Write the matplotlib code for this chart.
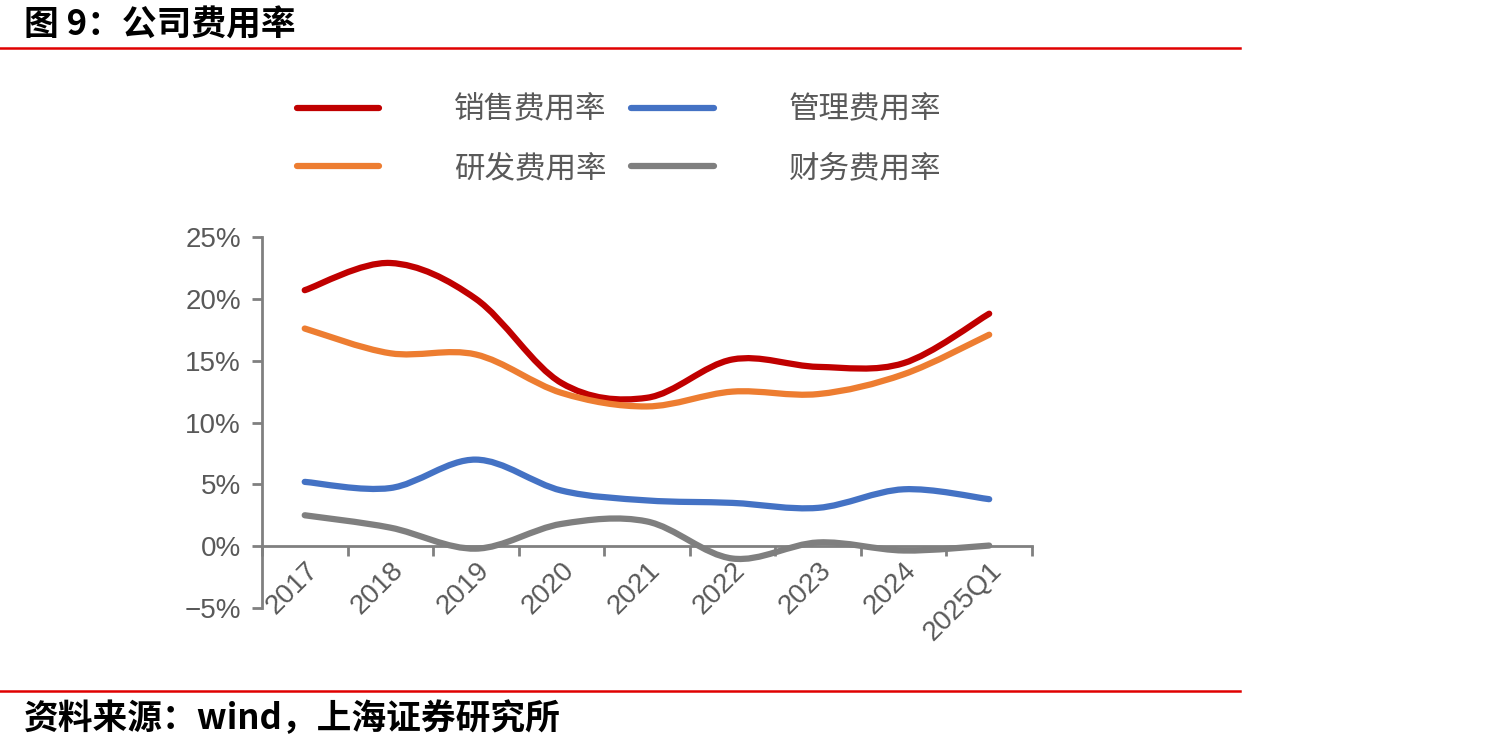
import matplotlib
matplotlib.use("Agg")
import matplotlib.pyplot as plt
from matplotlib.path import Path
from matplotlib.patches import PathPatch
from matplotlib.lines import Line2D
from matplotlib.ticker import FuncFormatter, FixedLocator
import numpy as np

plt.rcParams['font.family'] = ['Liberation Sans', 'Noto Sans CJK SC', 'DejaVu Sans']

# data (percent)
categories = ['2017', '2018', '2019', '2020', '2021', '2022', '2023', '2024', '2025Q1']
sales_rate = [20.7, 22.9, 20.0, 13.2, 12.0, 15.1, 14.5, 14.8, 18.8]
mgmt_rate = [5.2, 4.7, 7.0, 4.5, 3.7, 3.5, 3.1, 4.6, 3.8]
rd_rate = [17.6, 15.6, 15.5, 12.4, 11.3, 12.5, 12.3, 13.9, 17.1]
fin_rate = [2.5, 1.5, -0.2, 1.8, 2.0, -1.0, 0.3, -0.35, 0.05]

series_names = ['销售费用率', '研发费用率', '管理费用率', '财务费用率']
series_colors = ['#C00000', '#ED7D31', '#4472C4', '#7F7F7F']

AXIS_GRAY = '#808080'
TEXT_GRAY = '#595959'


def smooth_path(x, y):
    # excel-like smoothed line: cubic bezier through each point
    pts = np.column_stack([x, y]).astype(float)
    n = len(pts)
    verts = [pts[0]]
    codes = [Path.MOVETO]
    for i in range(n - 1):
        p_prev = pts[i - 1] if i > 0 else pts[i]
        p_next2 = pts[i + 2] if i + 2 < n else pts[i + 1]
        c1 = pts[i] + (pts[i + 1] - p_prev) / 6.0
        c2 = pts[i + 1] - (p_next2 - pts[i]) / 6.0
        verts += [c1, c2, pts[i + 1]]
        codes += [Path.CURVE4] * 3
    return Path(verts, codes)


fig = plt.figure(figsize=(14.9, 7.51), dpi=100)
ax = fig.add_axes([0.1758, 0.1904, 0.5168, 0.494])

xs = np.arange(len(categories))
handles = []
for vals, name, col in zip([sales_rate, rd_rate, mgmt_rate, fin_rate], series_names, series_colors):
    patch = PathPatch(smooth_path(xs, vals), fill=False, edgecolor=col, lw=4.5,
                      capstyle='round', joinstyle='round', transform=ax.transData, zorder=3)
    ax.add_patch(patch)
    handles.append(Line2D([], [], color=col, lw=4.5, solid_capstyle='round', label=name))

# spines first: set_position resets the ticks
for s in ['top', 'right']:
    ax.spines[s].set_visible(False)
ax.spines['bottom'].set_position(('data', 0))
for s in ['left', 'bottom']:
    ax.spines[s].set_color(AXIS_GRAY)
    ax.spines[s].set_linewidth(2)

ax.set_xlim(-0.5, len(categories) - 0.5)
ax.set_ylim(-5, 25)
ax.set_yticks(np.arange(-5, 26, 5))
ax.yaxis.set_major_formatter(FuncFormatter(lambda v, p: f'{v:.0f}%'.replace('-', '\u2212')))

ax.set_xticks(xs)
ax.xaxis.set_minor_locator(FixedLocator(np.arange(-0.5, len(categories), 1.0)))
ax.tick_params(axis='x', which='major', length=0, pad=8, labelsize=20, labelcolor=TEXT_GRAY)
ax.tick_params(axis='x', which='minor', length=7, width=2, color=AXIS_GRAY, direction='out')
ax.tick_params(axis='y', length=7, width=2, color=AXIS_GRAY, labelsize=20,
               labelcolor=TEXT_GRAY, pad=8)
ax.set_xticklabels(categories, rotation=45, ha='right', va='top', rotation_mode='anchor')

leg = fig.legend(handles=handles, ncol=2, loc='upper left', bbox_to_anchor=(0.1993, 0.874),
                 frameon=False, borderpad=0, borderaxespad=0, handlelength=2.7,
                 handletextpad=2.45, columnspacing=0.8, labelspacing=0.9,
                 prop={'family': 'Noto Sans CJK SC', 'size': 22})
for t in leg.get_texts():
    t.set_color(TEXT_GRAY)

# header / footer
fig.text(0.016, 0.966, '图 9：公司费用率', fontsize=25, fontweight='bold',
         family=['Noto Sans CJK SC', 'DejaVu Sans'], va='center', ha='left')
fig.add_artist(Line2D([0, 0.832], [1 - 48 / 751] * 2, color='#E00000', lw=1.8,
                      transform=fig.transFigure))
fig.add_artist(Line2D([0, 0.832], [1 - 691 / 751] * 2, color='#E00000', lw=1.8,
                      transform=fig.transFigure))
fig.text(0.016, 0.043, '资料来源：wind，上海证券研究所', fontsize=25, fontweight='bold',
         family=['Noto Sans CJK SC', 'DejaVu Sans'], va='center', ha='left')

fig.savefig('out.png', dpi=100)
